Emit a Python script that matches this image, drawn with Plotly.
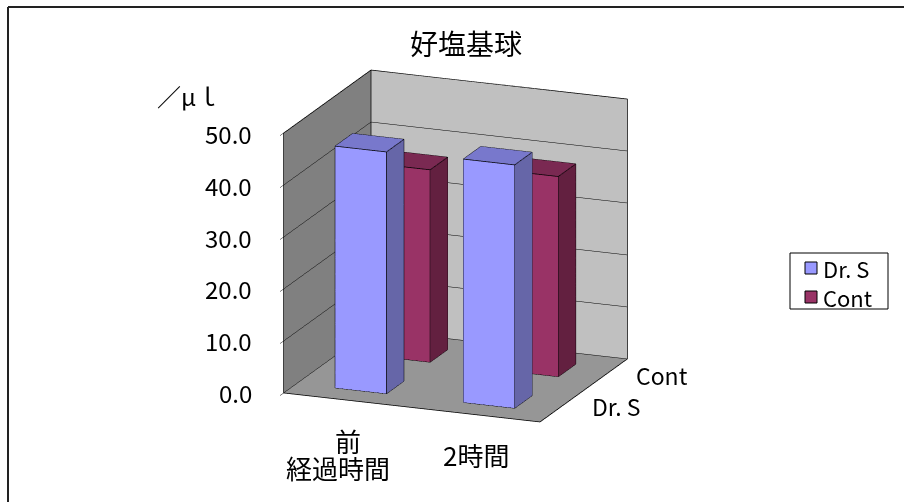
import plotly.graph_objects as go
import numpy as np

# Data
categories = ["前", "2時間"]
series_names = ["Dr. S", "Cont"]
dr_s = [46.5, 46.8]
cont = [37.0, 38.5]
value_ticks = [0, 10, 20, 30, 40, 50]

series_values = [dr_s, cont]
# front / side / top face colours per series
face_colors = [
    ("#9999FF", "#6666A8", "#7878CC"),
    ("#993366", "#632040", "#7A2952"),
]

FONT = "Noto Sans CJK JP, Noto Sans, sans-serif"
HALF = 0.2  # bar half-width along category and series directions
X_RANGE = [-0.5, len(categories) - 0.5]
Y_RANGE = [-0.5, len(series_names) - 0.5]
Z_RANGE = [0, 50]

fig = go.Figure()


def box_mesh(xc, yc, h, colors, name):
    x0, x1 = xc - HALF, xc + HALF
    y0, y1 = yc - HALF, yc + HALF
    vx = [x0, x1, x1, x0, x0, x1, x1, x0]
    vy = [y0, y0, y1, y1, y0, y0, y1, y1]
    vz = [0, 0, 0, 0, h, h, h, h]
    front, side, top = colors
    tris = [
        (0, 1, 5, front), (0, 5, 4, front),   # front (y0)
        (1, 2, 6, side), (1, 6, 5, side),     # right (x1)
        (4, 5, 6, top), (4, 6, 7, top),       # top
        (3, 2, 6, front), (3, 6, 7, front),   # back
        (0, 3, 7, side), (0, 7, 4, side),     # left
        (0, 1, 2, front), (0, 2, 3, front),   # bottom
    ]
    fig.add_trace(go.Mesh3d(
        x=vx, y=vy, z=vz,
        i=[t[0] for t in tris], j=[t[1] for t in tris], k=[t[2] for t in tris],
        facecolor=[t[3] for t in tris],
        flatshading=True,
        lighting=dict(ambient=1, diffuse=0, specular=0, roughness=1, fresnel=0),
        showlegend=False, hoverinfo="skip", name=name,
    ))
    # outline of the visible edges
    ex, ey, ez = [], [], []
    edges = [(0, 1), (1, 2), (4, 5), (5, 6), (6, 7), (7, 4), (0, 4), (1, 5), (2, 6)]
    for a, b in edges:
        ex += [vx[a], vx[b], None]
        ey += [vy[a], vy[b], None]
        ez += [vz[a], vz[b], None]
    fig.add_trace(go.Scatter3d(
        x=ex, y=ey, z=ez, mode="lines",
        line=dict(color="black", width=1.5),
        showlegend=False, hoverinfo="skip",
    ))


for si, vals in enumerate(series_values):
    for ci, v in enumerate(vals):
        box_mesh(ci, si, v, face_colors[si], series_names[si])

# wall outlines
xa, xb = X_RANGE
ya, yb = Y_RANGE
za, zb = Z_RANGE
wall_lines = [
    [(xa, ya, za), (xa, ya, zb), (xa, yb, zb), (xb, yb, zb), (xb, yb, za)],
    [(xa, ya, za), (xb, ya, za), (xb, yb, za)],
    [(xa, yb, za), (xa, yb, zb)],
]
wx, wy, wz = [], [], []
for poly in wall_lines:
    for p in poly:
        wx.append(p[0]); wy.append(p[1]); wz.append(p[2])
    wx.append(None); wy.append(None); wz.append(None)
fig.add_trace(go.Scatter3d(
    x=wx, y=wy, z=wz, mode="lines",
    line=dict(color="black", width=1.5),
    showlegend=False, hoverinfo="skip",
))

scene_ann = []
for ci, c in enumerate(categories):
    scene_ann.append(dict(x=ci, y=ya, z=za, text=c, showarrow=False,
                          xanchor="center", yanchor="middle", yshift=-40,
                          font=dict(family=FONT, size=26, color="black")))
for si, s in enumerate(series_names):
    scene_ann.append(dict(x=xb, y=si, z=za, text=s, showarrow=False,
                          xanchor="left", yanchor="middle", xshift=28,
                          font=dict(family=FONT, size=23, color="black")))
for v in value_ticks:
    scene_ann.append(dict(x=xa, y=ya, z=v, text=f"{v:.1f}", showarrow=False,
                          xanchor="right", yanchor="middle", xshift=-30,
                          font=dict(family=FONT, size=24, color="black")))

el, az = np.radians(16.6), np.radians(21.6)
eye_dir = np.array([np.sin(az) * np.cos(el), -np.cos(az) * np.cos(el), np.sin(el)])
eye = eye_dir * 1.46

W, H = 904, 502


def px(x, y):
    return x / W, 1 - y / H


# legend box drawn in paper space
LEG_BOX = (790, 253, 888, 309)
LEG_ROWS = [268, 297]
legend_shapes = [dict(type="rect", xref="paper", yref="paper",
                      x0=px(LEG_BOX[0], 0)[0], x1=px(LEG_BOX[2], 0)[0],
                      y0=px(0, LEG_BOX[3])[1], y1=px(0, LEG_BOX[1])[1],
                      line=dict(color="black", width=1), fillcolor="white")]
legend_ann = []
for si, name in enumerate(series_names):
    cy = LEG_ROWS[si]
    legend_shapes.append(dict(type="rect", xref="paper", yref="paper",
                              x0=px(805, 0)[0], x1=px(817, 0)[0],
                              y0=px(0, cy + 6)[1], y1=px(0, cy - 6)[1],
                              line=dict(color="black", width=1),
                              fillcolor=face_colors[si][0]))
    legend_ann.append(dict(text=name, x=px(821, 0)[0], y=px(0, cy)[1],
                           xref="paper", yref="paper", xanchor="left", yanchor="middle",
                           showarrow=False, font=dict(family=FONT, size=22, color="black")))

fig.update_layout(
    width=W, height=H,
    margin=dict(l=0, r=0, t=0, b=0),
    paper_bgcolor="white",
    font=dict(family=FONT, color="black"),
    showlegend=False,
    title=dict(text="好塩基球", x=466 / W, xanchor="center", y=1 - 45 / H, yanchor="middle",
               font=dict(family=FONT, size=28, color="black")),
    scene=dict(
        domain=dict(x=[0.074, 0.934], y=[0.06, 0.96]),
        aspectmode="manual",
        aspectratio=dict(x=1.22, y=1.05, z=1.2),
        camera=dict(eye=dict(x=eye[0], y=eye[1], z=eye[2]),
                    center=dict(x=0, y=0, z=0),
                    up=dict(x=0, y=0, z=1),
                    projection=dict(type="orthographic")),
        xaxis=dict(range=X_RANGE, showticklabels=False, showgrid=False, zeroline=False,
                   showbackground=True, backgroundcolor="#808080", title="",
                   showspikes=False, tickvals=[], showline=False),
        yaxis=dict(range=Y_RANGE, showticklabels=False, showgrid=False, zeroline=False,
                   showbackground=True, backgroundcolor="#C0C0C0", title="",
                   showspikes=False, tickvals=[], showline=False),
        zaxis=dict(range=Z_RANGE, tickvals=value_ticks, showticklabels=False,
                   ticks="outside", ticklen=6, tickcolor="black",
                   showgrid=True, gridcolor="black", gridwidth=1, zeroline=False,
                   showbackground=True, backgroundcolor="#969696", title="",
                   showspikes=False),
        annotations=scene_ann,
    ),
    annotations=[
        dict(text="／μｌ", x=px(188, 0)[0], y=px(0, 95)[1], xref="paper", yref="paper",
             xanchor="center", yanchor="middle",
             showarrow=False, font=dict(family=FONT, size=24, color="black")),
        dict(text="経過時間", x=px(338, 0)[0], y=px(0, 467)[1], xref="paper", yref="paper",
             xanchor="center", yanchor="middle",
             showarrow=False, font=dict(family=FONT, size=26, color="black")),
    ] + legend_ann,
    shapes=[
        dict(type="line", xref="paper", yref="paper", x0=px(8, 0)[0], y0=px(0, 7)[1],
             x1=1.0, y1=px(0, 7)[1], line=dict(color="#222222", width=2)),
        dict(type="line", xref="paper", yref="paper", x0=px(8, 0)[0], y0=0,
             x1=px(8, 0)[0], y1=px(0, 7)[1], line=dict(color="#222222", width=2)),
    ] + legend_shapes,
)

fig.write_html("out.html")
